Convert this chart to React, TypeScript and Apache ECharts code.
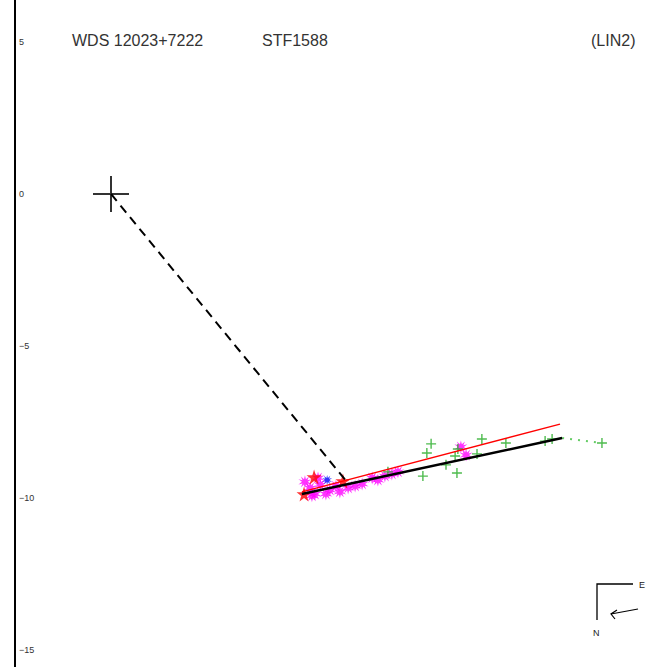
import React, { useEffect, useRef } from "react";
import * as echarts from "echarts";

// ---- data (arcseconds) ----
const titleMain = "WDS 12023+7222";
const titleName = "STF1588";
const titleRef = "(LIN2)";
const yTicks = [5, 0, -5, -10, -15];

const primary: number[][] = [[0, 0]];
const nodeLine: number[][] = [[0, 0], [7.76, -9.47]];
const orbitBlack: number[][] = [[6.28, -9.87], [14.84, -8.03]];
const orbitRed: number[][] = [[6.28, -9.8], [14.77, -7.57]];
const residualDots: number[][] = [[14.84, -8.03], [16.15, -8.19]];

const greenObs: number[][] = [
  [10.53, -8.22], [10.39, -8.52], [10.26, -9.28], [11.38, -9.18], [11.32, -8.62],
  [11.41, -8.39], [11.02, -8.91], [12.04, -8.55], [12.2, -8.06], [12.99, -8.19],
  [14.28, -8.13], [14.51, -8.06], [16.15, -8.19], [9.11, -9.14],
];
const magentaObs: number[][] = [
  [6.38, -9.47], [6.55, -9.67], [6.71, -9.87], [6.88, -9.57], [6.81, -9.34],
  [7.2, -9.74], [7.4, -9.61], [7.53, -9.8], [7.07, -9.87], [7.8, -9.67],
  [8.03, -9.61], [8.26, -9.54], [8.59, -9.34], [8.78, -9.41], [9.01, -9.28],
  [9.24, -9.21], [9.44, -9.14], [11.51, -8.32], [11.68, -8.59], [6.61, -9.93],
];
const redObs: number[][] = [[6.68, -9.31], [7.63, -9.44], [6.35, -9.87]];
const blueObs: number[][] = [[7.11, -9.41]];

const X_MIN = -3.158;
const X_MAX = 17.599;
const Y_MIN = -15.56;
const Y_MAX = 6.38;

const PLUS_BIG = "path://M17,0h2v17h17v2h-17v17h-2v-17h-17v-2h17z";
const PLUS_SMALL = "path://M4.3,0h1.4v4.3h4.3v1.4h-4.3v4.3h-1.4v-4.3h-4.3v-1.4h4.3z";
const STAR5 = "path://M50,0L61,35L98,35L68,57L79,91L50,70L21,91L32,57L2,35L39,35Z";
const STAR_SPIKY =
  "path://M50,0L57,30L80,8L68,37L98,30L72,50L98,70L68,63L80,92L57,70L50,100L43,70L20,92L32,63L2,70L28,50L2,30L32,37L20,8L43,30Z";
const FONT = "Liberation Sans, Arial, sans-serif";

export default function App() {
  const ref = useRef<HTMLDivElement>(null);
  useEffect(() => {
    if (!ref.current) return;
    const chart = echarts.init(ref.current, undefined, { renderer: "svg" });
    chart.setOption({
      animation: false,
      backgroundColor: "#ffffff",
      grid: { left: 15, right: 0, top: 0, bottom: 0 },
      xAxis: { type: "value", min: X_MIN, max: X_MAX, show: false },
      yAxis: {
        type: "value",
        min: Y_MIN,
        max: Y_MAX,
        axisLine: { show: true, onZero: false, lineStyle: { color: "#000", width: 2 } },
        axisTick: { show: false },
        splitLine: { show: false },
        axisLabel: {
          inside: true,
          margin: 4,
          fontSize: 9,
          color: "#333",
          fontFamily: FONT,
          customValues: yTicks,
          formatter: (v: number) => (v < 0 ? "\u2212" + String(-v) : String(v)),
        },
      },
      series: [
        {
          type: "scatter", data: magentaObs, symbol: STAR_SPIKY, symbolSize: 13,
          itemStyle: { color: "#ff00ff" }, z: 2,
        },
        {
          type: "scatter", data: redObs, symbol: STAR5, symbolSize: 15,
          itemStyle: { color: "#ff0000" }, z: 3,
        },
        {
          type: "scatter", data: blueObs, symbol: STAR_SPIKY, symbolSize: 10,
          itemStyle: { color: "#0000ff" }, z: 3,
        },
        {
          type: "scatter", data: greenObs, symbol: PLUS_SMALL, symbolSize: 10,
          itemStyle: { color: "#22aa22" }, z: 3,
        },
        {
          type: "line", data: residualDots, showSymbol: false, symbol: "none",
          lineStyle: { color: "#66cc66", width: 2, type: [2, 6] }, z: 4,
        },
        {
          type: "line", data: orbitRed, showSymbol: false, symbol: "none",
          lineStyle: { color: "#ff0000", width: 1.3 }, z: 4,
        },
        {
          type: "line", data: orbitBlack, showSymbol: false, symbol: "none",
          lineStyle: { color: "#000000", width: 2.6 }, z: 5,
        },
        {
          type: "line", data: nodeLine, showSymbol: false, symbol: "none",
          lineStyle: { color: "#000000", width: 2, type: [9, 6] }, z: 5,
        },
        {
          type: "scatter", data: primary, symbol: PLUS_BIG, symbolSize: 36,
          itemStyle: { color: "#000000" }, z: 6,
        },
      ],
      graphic: [
        { type: "text", left: 72, top: 32, style: { text: titleMain, fontSize: 16, fill: "#333", fontFamily: FONT } },
        { type: "text", left: 262, top: 32, style: { text: titleName, fontSize: 16, fill: "#333", fontFamily: FONT } },
        { type: "text", left: 591, top: 32, style: { text: titleRef, fontSize: 16, fill: "#333", fontFamily: FONT } },
        { type: "polyline", shape: { points: [[597, 620], [597, 584], [633, 584]] }, style: { stroke: "#000", lineWidth: 1.3, fill: null } },
        { type: "text", x: 639, y: 580, style: { text: "E", fontSize: 9, fill: "#222", fontFamily: FONT } },
        { type: "text", x: 593, y: 628, style: { text: "N", fontSize: 9, fill: "#222", fontFamily: FONT } },
        { type: "line", shape: { x1: 638, y1: 609, x2: 611, y2: 614 }, style: { stroke: "#000", lineWidth: 1.2 } },
        { type: "polyline", shape: { points: [[617, 610], [611, 614], [615, 619]] }, style: { stroke: "#000", lineWidth: 1.2, fill: null } },
      ],
    });
    return () => chart.dispose();
  }, []);
  return (
    <div
      ref={ref}
      style={{ position: "fixed", left: 0, top: 0, width: 646, height: 667 }}
    />
  );
}
